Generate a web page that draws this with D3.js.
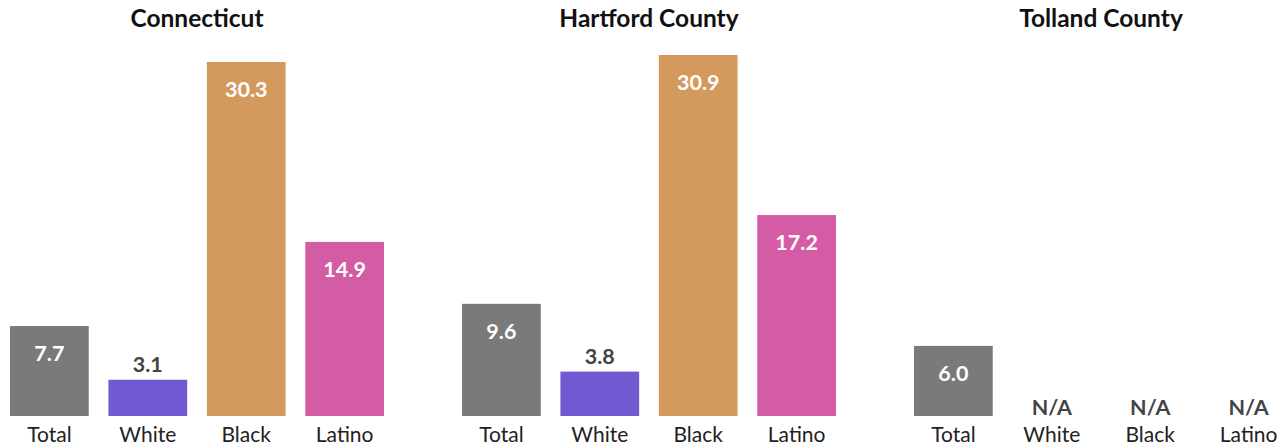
<!DOCTYPE html>
<html><head><meta charset="utf-8">
<script src="https://cdn.jsdelivr.net/npm/d3@7"></script>
<style>body{margin:0;background:#fff}svg{display:block}text{font-family:Lato,"Source Sans Pro","Noto Sans",sans-serif}</style>
</head><body>
<svg id="c" width="1286" height="448"></svg>
<script>
const regions = ["Connecticut", "Hartford County", "Tolland County"];
const categories = ["Total", "White", "Black", "Latino"];
const values = [
  [7.7, 3.1, 30.3, 14.9],
  [9.6, 3.8, 30.9, 17.2],
  [6.0, null, null, null]
];
const colors = ["#7a7a7a", "#7059d1", "#d4995c", "#d45ca5"];

const svg = d3.select("#c");
const panelWidth = 374, panelGap = 78, left = 10;
const baseY = 416;
const y = d3.scaleLinear().domain([0, 30.9]).range([baseY, 55]);
const px = d3.scaleBand().domain(regions).range([left, left + 3*panelWidth + 2*panelGap]).paddingInner(panelGap/(panelWidth+panelGap)).paddingOuter(0);
const x = d3.scaleBand().domain(categories).range([0, panelWidth]).paddingInner(0.2).paddingOuter(0);

regions.forEach((r, ri) => {
  const g = svg.append("g").attr("transform", `translate(${px(r)},0)`);
  g.append("text").attr("x", panelWidth/2).attr("y", 27).attr("text-anchor", "middle")
    .attr("font-size", 24.5).attr("font-weight", 700).attr("fill", "#111").text(r);
  categories.forEach((c, ci) => {
    const v = values[ri][ci];
    const cx = x(c) + x.bandwidth()/2;
    if (v !== null) {
      g.append("rect").attr("x", x(c)).attr("width", x.bandwidth())
        .attr("y", y(v)).attr("height", baseY - y(v)).attr("fill", colors[ci]);
      const inside = (baseY - y(v)) > 50;
      g.append("text").attr("x", cx).attr("y", inside ? y(v) + 35 : y(v) - 8)
        .attr("text-anchor", "middle").attr("font-size", 21.5).attr("font-weight", 700)
        .attr("fill", inside ? "#fff" : "#444").text(v.toFixed(1));
    } else {
      g.append("text").attr("x", cx).attr("y", baseY - 1)
        .attr("text-anchor", "middle").attr("font-size", 21.5).attr("font-weight", 700)
        .attr("fill", "#444").text("N/A");
    }
    g.append("text").attr("x", cx).attr("y", 442).attr("text-anchor", "middle")
      .attr("font-size", 21).attr("fill", "#222").text(c);
  });
});
</script>
</body></html>
